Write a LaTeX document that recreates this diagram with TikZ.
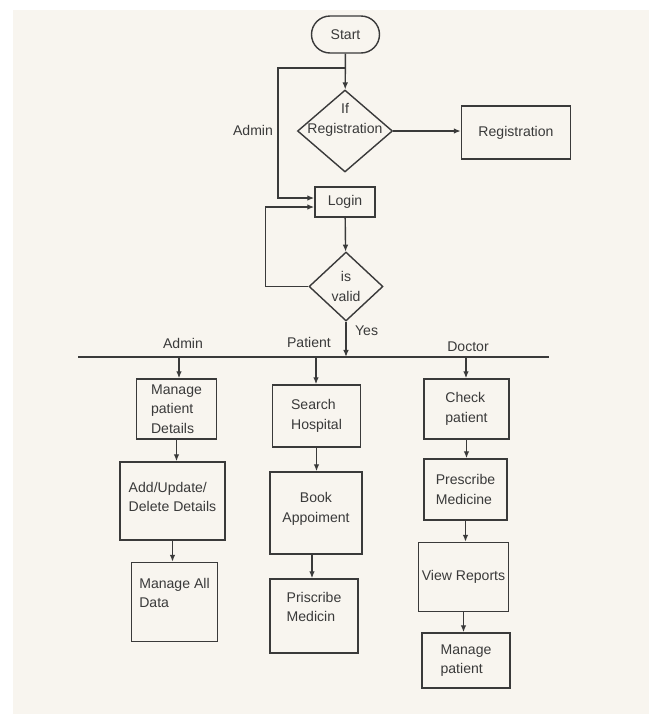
\documentclass[tikz,border=0pt]{standalone}
\usepackage{fontspec}
\setmainfont{Liberation Sans}
\usetikzlibrary{
arrows.meta, positioning,
shapes.geometric}
\definecolor{paper}{HTML}{F8F5EF}
\definecolor{ink}{HTML}{3A3A3A}

\begin{document}
\begin{tikzpicture}[
font=\fontsize{8}{11}\selectfont,
box/.style={rectangle, draw=ink, line width=0.8pt, text=ink, align=left, inner sep=2pt},
decision/.style={diamond, draw=ink, line width=0.8pt, inner sep=0pt},
tag/.style={text=ink, inner sep=1pt},
flow/.style={-{Latex[length=4pt,width=3.2pt]}, draw=ink, line width=0.8pt},
wire/.style={draw=ink, line width=0.8pt},
]

\useasboundingbox (0,0) rectangle (12.98,-14.28);
\fill[paper] (0.26,-0.2) rectangle (12.98,-14.28);

% top part
\node[box, rounded corners=0.37cm, align=center, minimum width=1.36cm, minimum height=0.74cm]
(start) at (6.91,-0.69)
{Start};

\node[decision, minimum width=1.9cm, minimum height=1.64cm]
(ifreg) at (6.90,-2.62)
{};
\node[tag, align=center]
(ifreg-text) at (6.90,-2.40)
{If\\Registration};

\node[box, align=center, minimum width=2.18cm, minimum height=1.06cm]
(reg) at (10.32,-2.65)
{Registration};

\node[box, align=center, minimum width=1.2cm, minimum height=0.6cm]
(login) at (6.90,-4.04)
{Login};

\node[decision, minimum width=1.48cm, minimum height=1.38cm]
(valid) at (6.92,-5.73)
{};
\node[tag, align=center]
(valid-text) at (6.92,-5.73)
{is\\valid};

\node[tag] (admin-top) at (5.06,-2.6) {Admin};
\node[tag, anchor=west] (yes) at (7.06,-6.62) {Yes};

\coordinate (split) at (6.91,-1.36);
\coordinate (bus-left) at (1.56,-7.14);
\coordinate (bus-right) at (10.98,-7.14);
\coordinate (drop-admin) at (3.58,-7.14);
\coordinate (drop-patient) at (6.32,-7.14);
\coordinate (drop-doctor) at (9.32,-7.14);

\node[tag] (admin) at (3.66,-6.86) {Admin};
\node[tag] (patient) at (6.18,-6.84) {Patient};
\node[tag] (doctor) at (9.36,-6.94) {Doctor};

% admin column
\node[box, minimum width=1.6cm, minimum height=1.2cm]
(manage-details) at (3.53,-8.18)
{Manage\\patient\\Details};

\node[box, text depth=0.16cm, minimum width=2.1cm, minimum height=1.56cm]
(add-update) at (3.45,-10.02)
{Add/Update/\\Delete Details};

\node[box, text depth=0.36cm, minimum width=1.72cm, minimum height=1.58cm]
(manage-data) at (3.49,-12.04)
{Manage All\\Data};

% patient column
\node[box, minimum width=1.76cm, minimum height=1.24cm]
(search) at (6.33,-8.32)
{Search\\Hospital};

\node[box, align=center, text depth=0.22cm, minimum width=1.84cm, minimum height=1.64cm]
(book) at (6.32,-10.26)
{Book\\Appoiment};

\node[box, text depth=0.36cm, minimum width=1.76cm, minimum height=1.48cm]
(priscribe) at (6.28,-12.32)
{Priscribe\\Medicin};

% doctor column
\node[box, minimum width=1.7cm, minimum height=1.2cm]
(check) at (9.33,-8.18)
{Check\\patient};

\node[box, minimum width=1.66cm, minimum height=1.22cm]
(prescribe) at (9.31,-9.79)
{Prescribe\\Medicine};

\node[box, minimum width=1.74cm, minimum height=1.38cm]
(reports) at (9.27,-11.54)
{View Reports};

\node[box, minimum width=1.76cm, minimum height=1.1cm]
(manage-patient) at (9.32,-13.21)
{Manage\\patient};

% connectors
\draw[flow] (start) -- (ifreg);
\draw[flow] (ifreg.east) -- (ifreg.east -| reg.west);
\draw[flow] (split) -- ++(-1.35,0) |- ([yshift=0.08cm]login.west);
\draw[flow] (login) -- (valid);
\draw[flow] (valid.west) -- ++(-0.86,0) |- ([yshift=-0.1cm]login.west);
\draw[flow] (valid.south) -- (valid.south |- bus-left);
\draw[wire] (bus-left) -- (bus-right);

\draw[flow] (drop-admin) -- (drop-admin |- manage-details.north);
\draw[flow] (drop-patient) -- (drop-patient |- search.north);
\draw[flow] (drop-doctor) -- (drop-doctor |- check.north);

\draw[flow] (manage-details.south) -- (manage-details.south |- add-update.north);
\draw[flow] (add-update.south) -- (add-update.south |- manage-data.north);
\draw[flow] (search.south) -- (search.south |- book.north);
\draw[flow] ([xshift=-0.08cm]book.south) -- ([xshift=-0.08cm]book.south |- priscribe.north);
\draw[flow] (check.south) -- (check.south |- prescribe.north);
\draw[flow] (prescribe.south) -- (prescribe.south |- reports.north);
\draw[flow] (reports.south) -- (reports.south |- manage-patient.north);

\end{tikzpicture}
\end{document}
